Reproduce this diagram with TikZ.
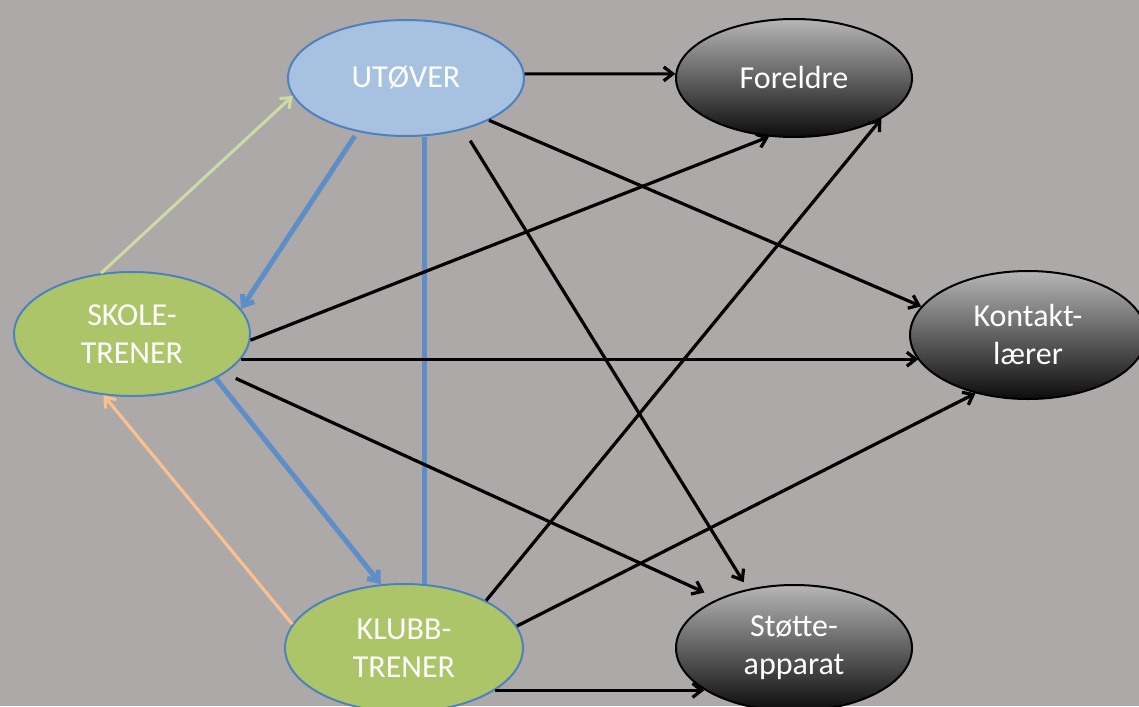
\documentclass[tikz,border=0pt]{standalone}
\usepackage{fontspec}
\setmainfont{Carlito}
\usetikzlibrary{arrows.meta,shapes.geometric,calc}
\definecolor{bg}{RGB}{173,169,168}
\definecolor{utofill}{RGB}{167,193,224}
\definecolor{grnfill}{RGB}{171,197,104}
\definecolor{nodeborder}{RGB}{79,129,189}
\definecolor{blueline}{RGB}{93,142,200}
\definecolor{lightgrn}{RGB}{203,221,164}
\definecolor{peach}{RGB}{250,192,144}
\definecolor{shadetop}{RGB}{182,182,182}
\definecolor{shadebot}{RGB}{12,12,12}
\tikzset{
  oval/.style={ellipse, inner sep=0pt, align=center, text=white,
    font=\fontsize{32}{38}\selectfont},
  uton/.style={oval, fill=utofill, draw=nodeborder, line width=2pt,
    minimum width=236pt, minimum height=116pt},
  grnnode/.style={oval, fill=grnfill, draw=nodeborder, line width=2pt,
    minimum width=236pt, minimum height=124pt},
  blknode/.style={oval, top color=shadetop, bottom color=shadebot, draw=black,
    line width=2pt, minimum width=236pt, minimum height=118pt},
  tip/.style={-{Straight Barb[length=9pt,width=14pt]}},
  blk/.style={tip, black, line width=3.2pt},
  bluel/.style={tip, blueline, line width=5pt},
  bluen/.style={blueline, line width=5pt},
  grnl/.style={tip, lightgrn, line width=3pt},
  pchl/.style={tip, peach, line width=3.2pt}
}
\begin{document}
\begin{tikzpicture}[x=1pt,y=-1pt]
\fill[bg] (0,0) rectangle (1139,706);
\useasboundingbox (0,0) rectangle (1139,706);

\node[uton] (uto) at (406,78) {UTØVER};
\node[blknode] (for) at (794,78) {Foreldre};
\node[grnnode] (sko) at (132,334) {SKOLE-\\TRENER};
\node[blknode, minimum height=128pt] (kon) at (1028,335) {Kontakt-\\lærer};
\node[grnnode, minimum width=238pt, minimum height=128pt] (klu) at (404,648) {KLUBB-\\TRENER};
\node[blknode, minimum height=126pt] (sto) at (794,648) {Støtte-\\apparat};

% from UTOVER
\draw[blk] (uto.2) -- (for.178);
\draw[blk] (uto.-27) -- (kon.165);
\draw[blk, shorten <=13pt, shorten >=8pt] (uto.-42) -- (sto.128);
\draw[bluel, shorten <=5pt] (uto.-132) -- (sko.13);
\draw[bluen] (klu.72) -- (klu.72 |- uto.south);

% from SKOLE-TRENER
\draw[grnl] (sko.117) -- (uto.189);
\draw[blk] (sko.-3) -- (for.-113);
\draw[blk] (sko.-13) -- (sko.-13 -| kon.193);
\draw[blk, shorten <=12pt, shorten >=15pt] (sko.-23) -- (sto.147);
\draw[bluel] (sko.-28) -- (klu.110);

% from KLUBB-TRENER
\draw[pchl] (klu.168) -- (sko.-115);
\draw[blk] (klu.30) -- (for.-25);
\draw[blk] (klu.11) -- (kon.-132);
\draw[blk] (klu.-25) -- (klu.-25 -| sto.205);
\end{tikzpicture}
\end{document}
